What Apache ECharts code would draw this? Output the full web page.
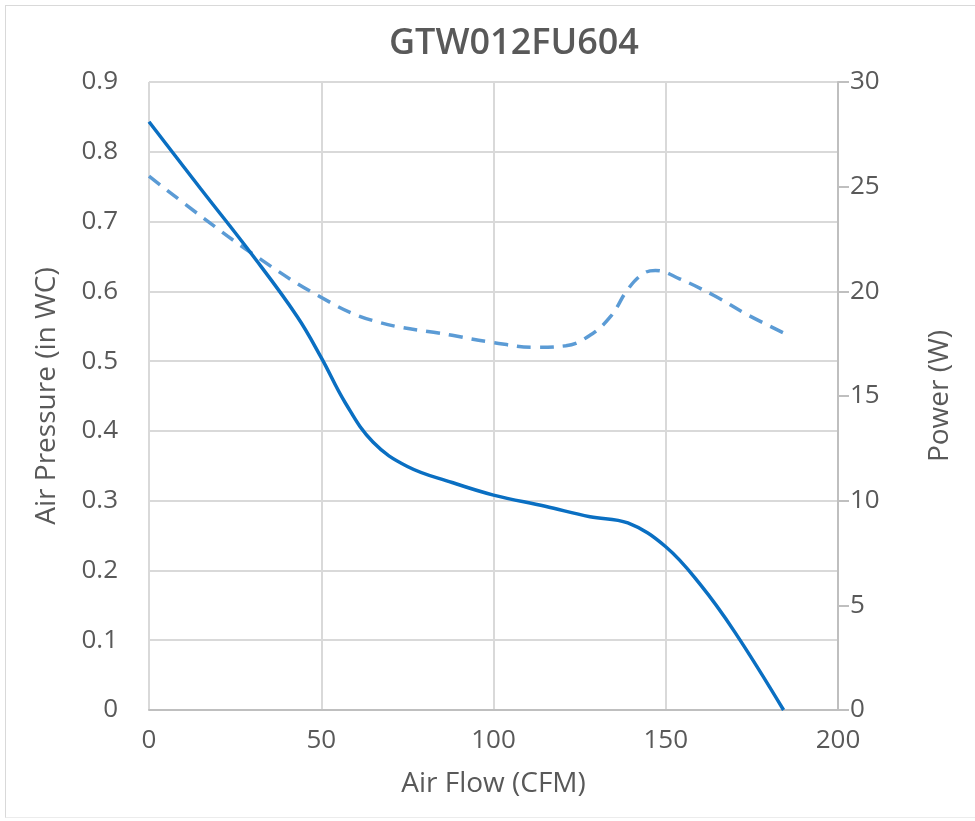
<!DOCTYPE html>
<html>
<head>
<meta charset="utf-8">
<script src="https://cdn.jsdelivr.net/npm/echarts@6/dist/echarts.min.js"></script>
<style>
html,body{margin:0;padding:0;background:#fff;}
#frame{position:absolute;left:5px;top:5px;width:980px;height:813px;border-left:1px solid #d9d9d9;border-top:1px solid #d9d9d9;border-bottom:1px solid #ececec;box-sizing:border-box;}
#chart{position:absolute;left:0;top:0;width:975px;height:821px;}
</style>
</head>
<body>
<div id="frame"></div>
<div id="chart"></div>
<script>
const chartTitle = 'GTW012FU604';
const xName = 'Air Flow (CFM)';
const yLeftName = 'Air Pressure (in WC)';
const yRightName = 'Power (W)';

// Air pressure curve: [CFM, inWC]
const pressureData = [
  [0,0.843],[15,0.747],[30,0.652],[43,0.564],[50,0.505],[57,0.440],[65,0.384],[75,0.349],
  [88,0.326],[100,0.308],[115,0.292],[128,0.277],[139,0.268],[150,0.234],[160,0.180],
  [170,0.112],[184.2,0]
];

// Power curve: [CFM, W]
const powerData = [
  [0,25.5],[15,23.6],[30,21.8],[49,19.8],[65,18.6],[88,17.9],
  [100,17.55],[112,17.33],[121,17.4],[128,17.9],[134,18.8],[139,20.1],
  [143.5,20.85],[147,21.0],[154,20.6],[164,19.8],[173.5,18.9],[184.4,18.0]
];

const txt = '#595959';
const font = 'Open Sans';
const chart = echarts.init(document.getElementById('chart'));
chart.setOption({
  animation:false,
  backgroundColor:'transparent',
  title:{text:chartTitle,left:384,top:21,textStyle:{color:txt,fontSize:36,fontWeight:600,fontFamily:font}},
  grid:{left:149,right:137,top:82,bottom:111},
  xAxis:{type:'value',min:0,max:200,interval:50,name:xName,nameLocation:'middle',nameGap:60,
    nameTextStyle:{color:txt,fontSize:28,fontFamily:font},
    axisLine:{show:true,onZero:false,lineStyle:{color:'#bfbfbf',width:2}},
    axisTick:{show:false},
    axisLabel:{color:txt,fontSize:26,fontFamily:font,margin:18},
    splitLine:{show:true,lineStyle:{color:'#d9d9d9',width:2}}},
  yAxis:[
    {type:'value',min:0,max:0.9,interval:0.1,name:yLeftName,nameLocation:'middle',nameGap:88,
     nameTextStyle:{color:txt,fontSize:28,fontFamily:font},
     axisLine:{show:false},axisTick:{show:false},
     axisLabel:{color:txt,fontSize:26,fontFamily:font,margin:31,formatter:v=>String(Math.round(v*10)/10)},
     splitLine:{show:true,lineStyle:{color:'#d9d9d9',width:2}}},
    {type:'value',min:0,max:30,interval:5,name:yRightName,nameLocation:'middle',nameGap:88,nameRotate:90,
     position:'right',
     nameTextStyle:{color:txt,fontSize:28,fontFamily:font},
     axisLine:{show:true,lineStyle:{color:'#bfbfbf',width:2}},
     axisTick:{show:true,length:11,inside:false,lineStyle:{color:'#bfbfbf',width:2}},
     axisLabel:{color:txt,fontSize:26,fontFamily:font,margin:12},
     splitLine:{show:false}}
  ],
  series:[
    {type:'line',name:'Pressure',yAxisIndex:0,data:pressureData,smooth:0.4,showSymbol:false,
     lineStyle:{color:'#0a6fc2',width:3.5},z:3},
    {type:'line',name:'Power',yAxisIndex:1,data:powerData,smooth:0.4,showSymbol:false,
     lineStyle:{color:'#5b9bd5',width:3.5,type:[14,9]},z:2}
  ]
});
</script>
</body>
</html>
